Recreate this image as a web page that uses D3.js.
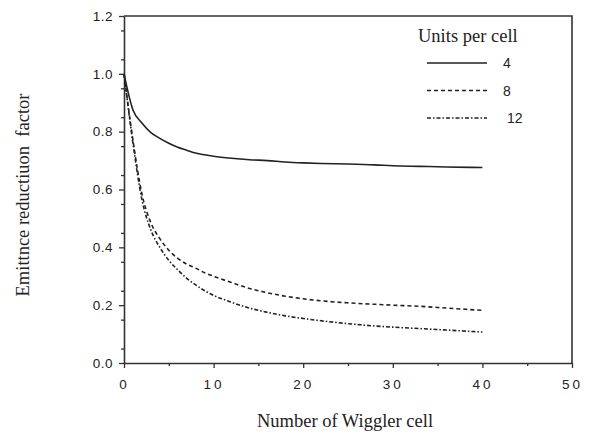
<!DOCTYPE html>
<html>
<head>
<meta charset="utf-8">
<script src="https://cdn.jsdelivr.net/npm/d3@7"></script>
<style>
  body { margin: 0; background: #fff; }
  svg { display: block; }
  .tick text { font-family: "Liberation Sans", Arial, sans-serif; font-size: 13.5px; fill: #222; }
  .serif { font-family: "Liberation Serif", "Times New Roman", serif; font-size: 18.5px; fill: #222; }
</style>
</head>
<body>
<div id="chart"></div>
<script>
// number of wiggler cells sampled
const cells = [0, 1, 2, 3, 4, 5, 6, 7, 8, 9, 10, 12, 14, 16, 18, 20, 22, 25, 28, 30, 33, 36, 40];

// emittance reduction factor per units-per-cell
const units4  = [1.0, 0.875, 0.83, 0.797, 0.777, 0.76, 0.746, 0.736, 0.726, 0.72, 0.715, 0.708, 0.703, 0.700, 0.695, 0.692, 0.690, 0.688, 0.685, 0.682, 0.680, 0.678, 0.676];
const units8  = [1.0, 0.77, 0.585, 0.485, 0.43, 0.39, 0.362, 0.342, 0.328, 0.312, 0.300, 0.278, 0.258, 0.243, 0.231, 0.222, 0.215, 0.208, 0.203, 0.200, 0.196, 0.190, 0.182];
const units12 = [1.0, 0.76, 0.565, 0.46, 0.40, 0.355, 0.322, 0.293, 0.270, 0.250, 0.234, 0.210, 0.190, 0.175, 0.163, 0.154, 0.146, 0.136, 0.128, 0.124, 0.119, 0.114, 0.107];

const seriesNames = ['4', '8', '12'];
const seriesDash = [null, '4,3', '4,2,1.5,2'];

const xTicks = [0, 10, 20, 30, 40, 50];
const yTicks = [0.0, 0.2, 0.4, 0.6, 0.8, 1.0, 1.2];

const width = 591, height = 437;
const margin = { top: 16, right: 19, bottom: 74, left: 124 };
const w = width - margin.left - margin.right;
const h = height - margin.top - margin.bottom;

const svg = d3.select('#chart').append('svg')
  .attr('width', width)
  .attr('height', height);

const g = svg.append('g')
  .attr('transform', 'translate(' + margin.left + ',' + margin.top + ')');

const x = d3.scaleLinear().domain([0, 50]).range([0, w]);
const y = d3.scaleLinear().domain([0, 1.2]).range([h, 0]);

// frame (top and right)
g.append('path')
  .attr('d', 'M0,0H' + w + 'V' + h)
  .attr('fill', 'none')
  .attr('stroke', '#333')
  .attr('stroke-width', 1.6);

// minor ticks
g.append('g')
  .attr('transform', 'translate(0,' + h + ')')
  .call(d3.axisBottom(x).tickValues(d3.range(5, 50, 10)).tickSize(3).tickFormat(''))
  .call(a => a.select('.domain').remove())
  .selectAll('line').attr('stroke', '#333').attr('stroke-width', 1.3);

g.append('g')
  .call(d3.axisLeft(y).tickValues(d3.range(0.05, 1.2, 0.1)).tickSize(3).tickFormat(''))
  .call(a => a.select('.domain').remove())
  .selectAll('line').attr('stroke', '#333').attr('stroke-width', 1.3);

// main axes
const xAxis = g.append('g')
  .attr('transform', 'translate(0,' + h + ')')
  .call(d3.axisBottom(x).tickValues(xTicks).tickSize(5).tickSizeOuter(0).tickPadding(11).tickFormat(d3.format('d')));
xAxis.selectAll('text').style('letter-spacing', '3px');

const yAxis = g.append('g')
  .call(d3.axisLeft(y).tickValues(yTicks).tickSize(5).tickSizeOuter(0).tickPadding(6).tickFormat(d3.format('.1f')));
yAxis.selectAll('text').style('letter-spacing', '0.5px');

[xAxis, yAxis].forEach(a => {
  a.select('.domain').attr('stroke', '#333').attr('stroke-width', 1.6);
  a.selectAll('.tick line').attr('stroke', '#333').attr('stroke-width', 1.3);
});

// curves
const line = d3.line()
  .x(d => x(d[0]))
  .y(d => y(d[1]))
  .curve(d3.curveMonotoneX);

[units4, units8, units12].forEach((vals, i) => {
  g.append('path')
    .datum(cells.map((c, j) => [c, vals[j]]))
    .attr('d', line)
    .attr('fill', 'none')
    .attr('stroke', '#222')
    .attr('stroke-width', 1.6)
    .attr('stroke-dasharray', seriesDash[i]);
});

// legend
const legend = svg.append('g');
legend.append('text')
  .attr('class', 'serif')
  .attr('x', 418)
  .attr('y', 42)
  .text('Units per cell');

seriesNames.forEach((name, i) => {
  const ly = 63 + i * 27.5;
  legend.append('line')
    .attr('x1', 427).attr('x2', 487)
    .attr('y1', ly).attr('y2', ly)
    .attr('stroke', '#222')
    .attr('stroke-width', 1.6)
    .attr('stroke-dasharray', seriesDash[i]);
  legend.append('text')
    .attr('x', name.length > 1 ? 507 : 503)
    .attr('y', ly + 5)
    .style('font-family', '"Liberation Sans", Arial, sans-serif')
    .style('font-size', '14px')
    .style('fill', '#222')
    .text(name);
});

// axis titles
svg.append('text')
  .attr('class', 'serif')
  .attr('x', 345)
  .attr('y', 427)
  .attr('text-anchor', 'middle')
  .text('Number of Wiggler cell');

svg.append('text')
  .attr('class', 'serif')
  .attr('transform', 'translate(29,195) rotate(-90)')
  .attr('text-anchor', 'middle')
  .style('white-space', 'pre')
  .text('Emittnce reductiuon  factor');
</script>
</body>
</html>
